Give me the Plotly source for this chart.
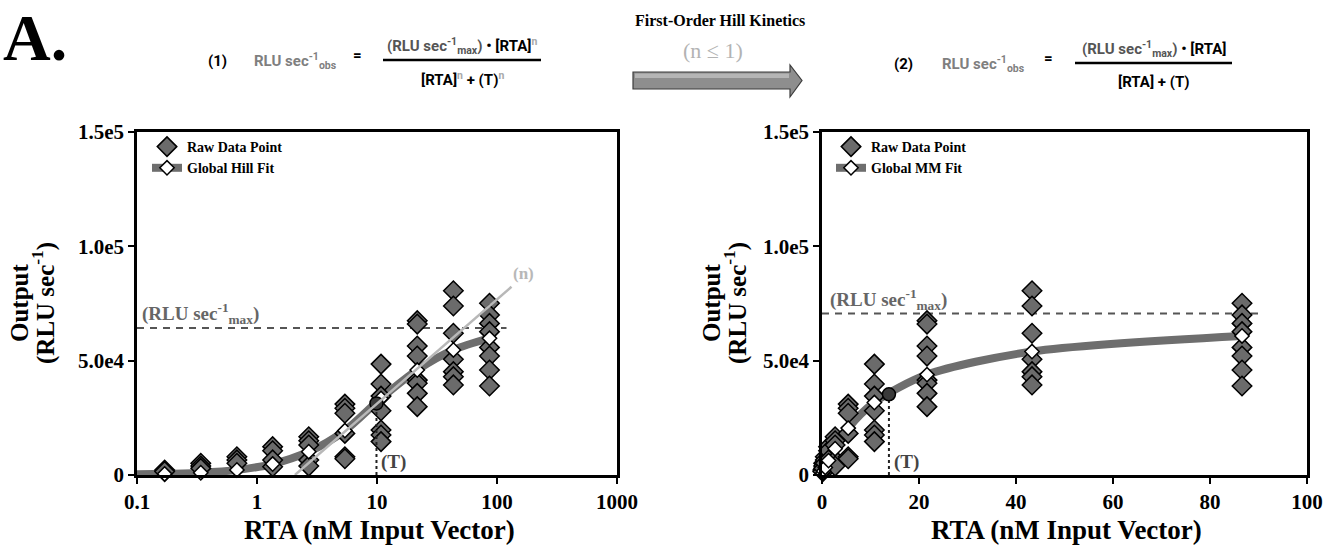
import plotly.graph_objects as go
import math

W, H = 1326, 551

# ---------------- data ----------------
conc = [0.17, 0.34, 0.68, 1.35, 2.7, 5.4, 10.8, 21.65, 43.3, 86.6]
raw_by_conc = [
    [2200, 1500],
    [5100, 3900, 2900],
    [8000, 6600, 5100],
    [12400, 10600, 6600, 3600],
    [16700, 15000, 13100, 6600, 3900],
    [31000, 29200, 27000, 18200, 8000, 7100],
    [48500, 39800, 34500, 28100, 19700, 17500, 14600],
    [67500, 66000, 56400, 52000, 41500, 40100, 35700, 29900],
    [80600, 73900, 62000, 50600, 45200, 43000, 39400],
    [75100, 70000, 66300, 62700, 55800, 52000, 45900, 38900],
]
hill_fit_x = [0.1, 0.17, 0.34, 0.68, 1.35, 2.7, 5.4, 10.8, 21.65, 43.3, 86.6]
hill_fit_y = [300, 500, 1000, 2200, 4800, 10200, 19400, 33500, 45900, 54700, 59800]
mm_fit_x = [0, 0.17, 0.34, 0.68, 1.35, 2.7, 5.4, 10.8, 21.65, 43.3, 86.6]
mm_fit_y = [0, 860, 1700, 3300, 6300, 11500, 20500, 31700, 43900, 54000, 60800]

hill_max = 64300
hill_max_x = [0.1, 120]
hill_T = 9.9
hill_T_y = 31300
tangent_x = [2.07, 132]
tangent_y = [0, 82300]

mm_max = 70600
mm_max_x = [0, 90.7]
mm_T = 13.8
mm_T_y = 35300

y_ticks = [0, 50000, 100000, 150000]
y_tick_text = ["0", "5.0e4", "1.0e5", "1.5e5"]
x_log_ticks = [0.1, 1, 10, 100, 1000]
x_log_text = ["0.1", "1", "10", "100", "1000"]
x_lin_ticks = [0, 20, 40, 60, 80, 100]
x_lin_text = ["0", "20", "40", "60", "80", "100"]

# ---------------- styling ----------------
SERIF = "Liberation Serif, Times New Roman, serif"
SANS = "Roboto, Open Sans, sans-serif"
FIT_COL = "#6e6e6e"
RAW_COL = "#6b6b6b"


def px(x):
    return x / W


def py(y):
    return 1 - y / H


raw_x = [c for c, vals in zip(conc, raw_by_conc) for _ in vals]
raw_y = [v for vals in raw_by_conc for v in vals]

fig = go.Figure()


def add_panel(xa, ya, legend, fit_x, fit_y, fit_name, vmax, vmax_x, T, T_y):
    fig.add_trace(go.Scatter(x=vmax_x, y=[vmax, vmax], mode="lines", xaxis=xa, yaxis=ya,
                             line=dict(color="#555555", width=2, dash="7px,6px"),
                             showlegend=False, hoverinfo="skip"))
    fig.add_trace(go.Scatter(x=fit_x, y=fit_y, mode="lines", xaxis=xa, yaxis=ya,
                             line=dict(color=FIT_COL, width=8, shape="spline", smoothing=0.8),
                             showlegend=False, hoverinfo="skip"))
    fig.add_trace(go.Scatter(x=raw_x, y=raw_y, mode="markers", xaxis=xa, yaxis=ya,
                             name="Raw Data Point", legend=legend, cliponaxis=False,
                             marker=dict(symbol="diamond", size=15, color=RAW_COL,
                                         line=dict(color="black", width=1.5))))
    fig.add_trace(go.Scatter(x=[None], y=[None], mode="lines+markers", xaxis=xa, yaxis=ya,
                             name=fit_name, legend=legend,
                             line=dict(color=FIT_COL, width=8),
                             marker=dict(symbol="diamond", size=11, color="white",
                                         line=dict(color="black", width=1.5))))
    fig.add_trace(go.Scatter(x=fit_x[1:], y=fit_y[1:], mode="markers", xaxis=xa, yaxis=ya,
                             showlegend=False, cliponaxis=False, hoverinfo="skip",
                             marker=dict(symbol="diamond", size=11, color="white",
                                         line=dict(color="black", width=1.5))))
    fig.add_trace(go.Scatter(x=[T, T], y=[0, T_y], mode="lines", xaxis=xa, yaxis=ya,
                             line=dict(color="#222222", width=2, dash="dot"),
                             showlegend=False, hoverinfo="skip"))
    fig.add_trace(go.Scatter(x=[T], y=[T_y], mode="markers", xaxis=xa, yaxis=ya,
                             showlegend=False, hoverinfo="skip",
                             marker=dict(symbol="circle", size=13, color="#3a3a3a",
                                         line=dict(color="black", width=1.5))))


add_panel("x", "y", "legend", hill_fit_x, hill_fit_y, "Global Hill Fit",
          hill_max, hill_max_x, hill_T, hill_T_y)
fig.add_trace(go.Scatter(x=tangent_x, y=tangent_y, mode="lines", xaxis="x", yaxis="y",
                         line=dict(color="#b8b8b8", width=2.5), showlegend=False, hoverinfo="skip"))
add_panel("x2", "y2", "legend2", mm_fit_x, mm_fit_y, "Global MM Fit",
          mm_max, mm_max_x, mm_T, mm_T_y)

axis_common = dict(showline=True, mirror=True, linecolor="black", linewidth=2.5,
                   ticks="outside", ticklen=6, tickwidth=1.5, tickcolor="black",
                   showgrid=False, zeroline=False, automargin=False,
                   tickfont=dict(family=SERIF, size=21, color="black", weight="bold"))

ydom = [py(475), py(132)]
legend_font = dict(family=SERIF, size=14, color="black", weight="bold")
fig.update_layout(
    template="none",
    width=W, height=H, autosize=False,
    margin=dict(l=0, r=0, t=0, b=0, pad=0, autoexpand=False),
    paper_bgcolor="white", plot_bgcolor="white",
    xaxis=dict(type="log", range=[-1, 3], domain=[px(137), px(617)], anchor="y",
               tickvals=x_log_ticks, ticktext=x_log_text, **axis_common),
    yaxis=dict(range=[0, 150000], domain=ydom, anchor="x",
               tickvals=y_ticks, ticktext=y_tick_text, **axis_common),
    xaxis2=dict(range=[0, 100], domain=[px(822), px(1307)], anchor="y2",
                tickvals=x_lin_ticks, ticktext=x_lin_text, **axis_common),
    yaxis2=dict(range=[0, 150000], domain=ydom, anchor="x2",
                tickvals=y_ticks, ticktext=y_tick_text, **axis_common),
    legend=dict(x=px(147), y=py(131), xanchor="left", yanchor="top", borderwidth=0,
                bgcolor="rgba(0,0,0,0)", font=legend_font, tracegroupgap=0, itemsizing="trace"),
    legend2=dict(x=px(831), y=py(131), xanchor="left", yanchor="top", borderwidth=0,
                 bgcolor="rgba(0,0,0,0)", font=legend_font, tracegroupgap=0, itemsizing="trace"),
)

ann = []


def A(text, x, y, size, color="black", family=SERIF, xanchor="center", yanchor="middle",
      xref="paper", yref="paper", angle=0, bold=True):
    ann.append(dict(text=text, x=x, y=y, xref=xref, yref=yref, showarrow=False,
                    xanchor=xanchor, yanchor=yanchor, textangle=angle,
                    font=dict(family=family, size=size, color=color,
                              weight="bold" if bold else "normal")))


A("A.", px(1), py(-1), 66, xanchor="left", yanchor="top")
A("First-Order Hill Kinetics", px(720), py(21), 16)
A("(n \u2264 1)", px(713), py(50), 22, color="#b3b3b3", bold=False)

for cx in (379, 1066):
    A("RTA (nM Input Vector)", px(cx), py(530), 27)
for ox, rx in ((19, 43), (711, 735)):
    A("Output", px(ox), py(303), 25, angle=-90)
    A("(RLU sec<sup>-1</sup>)", px(rx), py(303), 25, angle=-90)

A("(RLU sec<sup>-1</sup><sub>max</sub>)", math.log10(0.105), hill_max - 500, 19, color="#666666",
  xanchor="left", yanchor="bottom", xref="x", yref="y")
A("(RLU sec<sup>-1</sup><sub>max</sub>)", 1.3, mm_max - 500, 19, color="#666666",
  xanchor="left", yanchor="bottom", xref="x2", yref="y2")
A("(n)", math.log10(165), 88000, 17, color="#b8b8b8", xref="x", yref="y")
A("(T)", math.log10(hill_T * 1.04), 5800, 19, color="#444444", xanchor="left", xref="x", yref="y")
A("(T)", mm_T + 0.6, 5800, 19, color="#444444", xanchor="left", xref="x2", yref="y2")

GRAY = "#7f7f7f"
DG = "#555555"
LG = "#a8a8a8"
eqs = [
    dict(num_x=217, lhs_x=252, eq_x=357, frac_c=462, bar=(383, 541), ybar=60, tag="(1)",
         num="<span style='color:%s'>(RLU sec<sup>-1</sup><sub>max</sub>)</span> \u2022 [RTA]<sup><span style='color:%s'>n</span></sup>" % (DG, LG),
         den="[RTA]<sup><span style='color:%s'>n</span></sup> + (T)<sup><span style='color:%s'>n</span></sup>" % (LG, LG)),
    dict(num_x=903, lhs_x=940, eq_x=1048, frac_c=1154, bar=(1075, 1232), ybar=63, tag="(2)",
         num="<span style='color:%s'>(RLU sec<sup>-1</sup><sub>max</sub>)</span> \u2022 [RTA]" % DG,
         den="[RTA] + (T)"),
]
shapes = []
for e in eqs:
    yb = e["ybar"]
    A(e["tag"], px(e["num_x"]), py(yb + 1), 15, family=SANS)
    A("RLU sec<sup>-1</sup><sub>obs</sub>", px(e["lhs_x"]), py(yb + 1), 15, color=GRAY,
      family=SANS, xanchor="left")
    A("=", px(e["eq_x"]), py(yb - 5), 15, family=SANS)
    A(e["num"], px(e["frac_c"]), py(yb - 14), 15, family=SANS)
    A(e["den"], px(e["frac_c"]), py(yb + 19), 15, family=SANS)
    shapes.append(dict(type="line", xref="paper", yref="paper",
                       x0=px(e["bar"][0]), x1=px(e["bar"][1]), y0=py(e["ybar"]), y1=py(e["ybar"]),
                       line=dict(color="black", width=2.5)))

pts = [(633, 72), (790, 72), (790, 65), (802, 80.5), (790, 97), (790, 89), (633, 89)]
path = "M " + " L ".join("%.5f,%.5f" % (px(x), py(y)) for x, y in pts) + " Z"
shapes.append(dict(type="path", xref="paper", yref="paper", path=path,
                   fillcolor="#8e8e8e", line=dict(color="#3c3c3c", width=1.2)))
hl = [(635, 73.5), (789, 73.5), (789, 78), (635, 78)]
path2 = "M " + " L ".join("%.5f,%.5f" % (px(x), py(y)) for x, y in hl) + " Z"
shapes.append(dict(type="path", xref="paper", yref="paper", path=path2,
                   fillcolor="#b5b5b5", line=dict(width=0)))

fig.update_layout(annotations=ann, shapes=shapes)
fig.write_html("out.html", config={"responsive": False},
               post_script="document.body.style.margin='0';document.body.style.padding='0';")
